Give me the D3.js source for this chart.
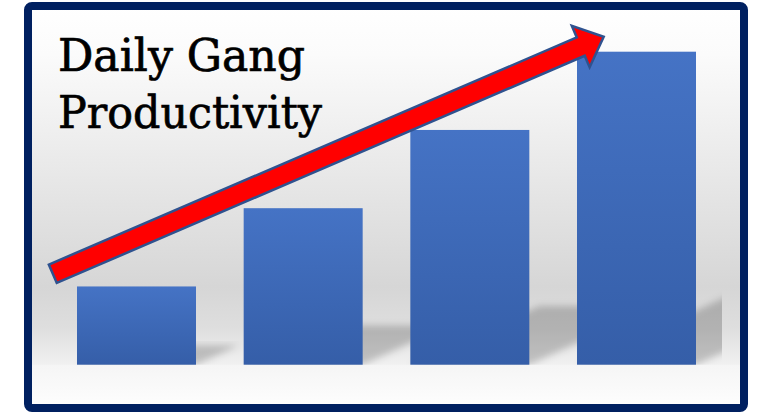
<!DOCTYPE html>
<html>
<head>
<meta charset="utf-8">
<script src="https://cdn.jsdelivr.net/npm/d3@7"></script>
<style>
  html, body { margin: 0; padding: 0; background: #ffffff; }
  svg { display: block; }
</style>
</head>
<body>
<svg id="chart" width="757" height="414"></svg>
<script>
// data
const categories = ['Day 1', 'Day 2', 'Day 3', 'Day 4'];
const output = [1, 2, 3, 4];
const titleLines = ['Daily Gang', 'Productivity'];

const W = 757, H = 414;
const svg = d3.select('#chart');
const defs = svg.append('defs');

// background: white -> grey -> white
const bg = defs.append('linearGradient').attr('id', 'bg')
  .attr('x1', 0).attr('y1', 0).attr('x2', 0).attr('y2', 1);
[[0, '#ffffff'], [0.12, '#fbfbfb'], [0.70, '#d6d6d6'], [0.80, '#dedede'], [0.89, '#f0f0f0'], [1, '#ffffff']]
  .forEach(([o, c]) => bg.append('stop').attr('offset', o).attr('stop-color', c));

const barGrad = defs.append('linearGradient').attr('id', 'barGrad')
  .attr('x1', 0).attr('y1', 0).attr('x2', 0).attr('y2', 1);
barGrad.append('stop').attr('offset', 0).attr('stop-color', '#4573c5');
barGrad.append('stop').attr('offset', 1).attr('stop-color', '#355ea8');

const below = defs.append('linearGradient').attr('id', 'below')
  .attr('x1', 0).attr('y1', 0).attr('x2', 0).attr('y2', 1);
below.append('stop').attr('offset', 0).attr('stop-color', '#f5f5f5');
below.append('stop').attr('offset', 1).attr('stop-color', '#fdfdfd');

defs.append('filter').attr('id', 'blur')
  .attr('x', '-20%').attr('y', '-20%').attr('width', '140%').attr('height', '140%')
  .append('feGaussianBlur').attr('stdDeviation', 3.5);

// scales
const x = d3.scaleBand().domain(categories).range([77, 696]).paddingInner(0.286).paddingOuter(0);
const y = d3.scaleLinear().domain([0, 4]).range([364.7, 51.7]);
const base = y(0);

defs.append('clipPath').attr('id', 'plotClip')
  .append('rect').attr('x', 32).attr('y', 10).attr('width', 722 - 32).attr('height', base - 10);

// frame fill
svg.append('rect').attr('x', 28).attr('y', 6).attr('width', 716).attr('height', 402)
  .attr('fill', 'url(#bg)');
svg.append('rect').attr('x', 32).attr('y', base).attr('width', 708).attr('height', 404 - base)
  .attr('fill', 'url(#below)');

// perspective shadows behind bars
const k = 0.25, skew = 2.2;
svg.append('g').attr('clip-path', 'url(#plotClip)')
  .selectAll('path.shadow').data(output).enter()
  .append('path').attr('class', 'shadow')
  .attr('fill', '#000').attr('fill-opacity', 0.2).attr('filter', 'url(#blur)')
  .attr('d', (d, i) => {
    const x0 = x(categories[i]), x1 = x0 + x.bandwidth();
    const h = (base - y(d)) * k;
    return `M${x0},${base}L${x1},${base}L${x1 + skew * h},${base - h}L${x0 + skew * h},${base - h}Z`;
  });

// bars
svg.append('g').selectAll('rect.bar').data(output).enter()
  .append('rect').attr('class', 'bar')
  .attr('x', (d, i) => x(categories[i]))
  .attr('y', d => y(d))
  .attr('width', x.bandwidth())
  .attr('height', d => base - y(d))
  .attr('fill', 'url(#barGrad)');

// trend arrow from first bar to last bar
const tail = [x(categories[0]) - 24.2, y(output[0]) - 12.7];
const tip = [x(categories[3]) + 26.7, y(output[3]) - 15];
const len = Math.hypot(tip[0] - tail[0], tip[1] - tail[1]);
const ang = Math.atan2(tip[1] - tail[1], tip[0] - tail[0]) * 180 / Math.PI;
const sw = 10, hw = 22.5, hl = 25;
svg.append('path')
  .attr('transform', `translate(${tail[0]},${tail[1]}) rotate(${ang})`)
  .attr('d', `M0,${-sw}L${len - hl},${-sw}L${len - hl},${-hw}L${len},0L${len - hl},${hw}L${len - hl},${sw}L0,${sw}Z`)
  .attr('fill', '#ff0000').attr('stroke', '#2f528f').attr('stroke-width', 2.5)
  .attr('stroke-linejoin', 'miter');

// title (slab serif look: DejaVu Serif with a thin stroke to thicken it)
const title = svg.append('text')
  .attr('font-family', '"DejaVu Serif", serif').attr('font-size', 44)
  .attr('fill', '#000').attr('stroke', '#000').attr('stroke-width', 0.7);
title.selectAll('tspan').data(titleLines).enter().append('tspan')
  .attr('x', 58).attr('y', (d, i) => 71 + i * 57.3)
  .attr('textLength', (d, i) => i === 0 ? 247 : 264)
  .attr('lengthAdjust', 'spacingAndGlyphs')
  .text(d => d);

// border
svg.append('rect').attr('x', 28).attr('y', 6).attr('width', 716).attr('height', 402)
  .attr('rx', 4).attr('fill', 'none').attr('stroke', '#002060').attr('stroke-width', 8);
</script>
</body>
</html>
